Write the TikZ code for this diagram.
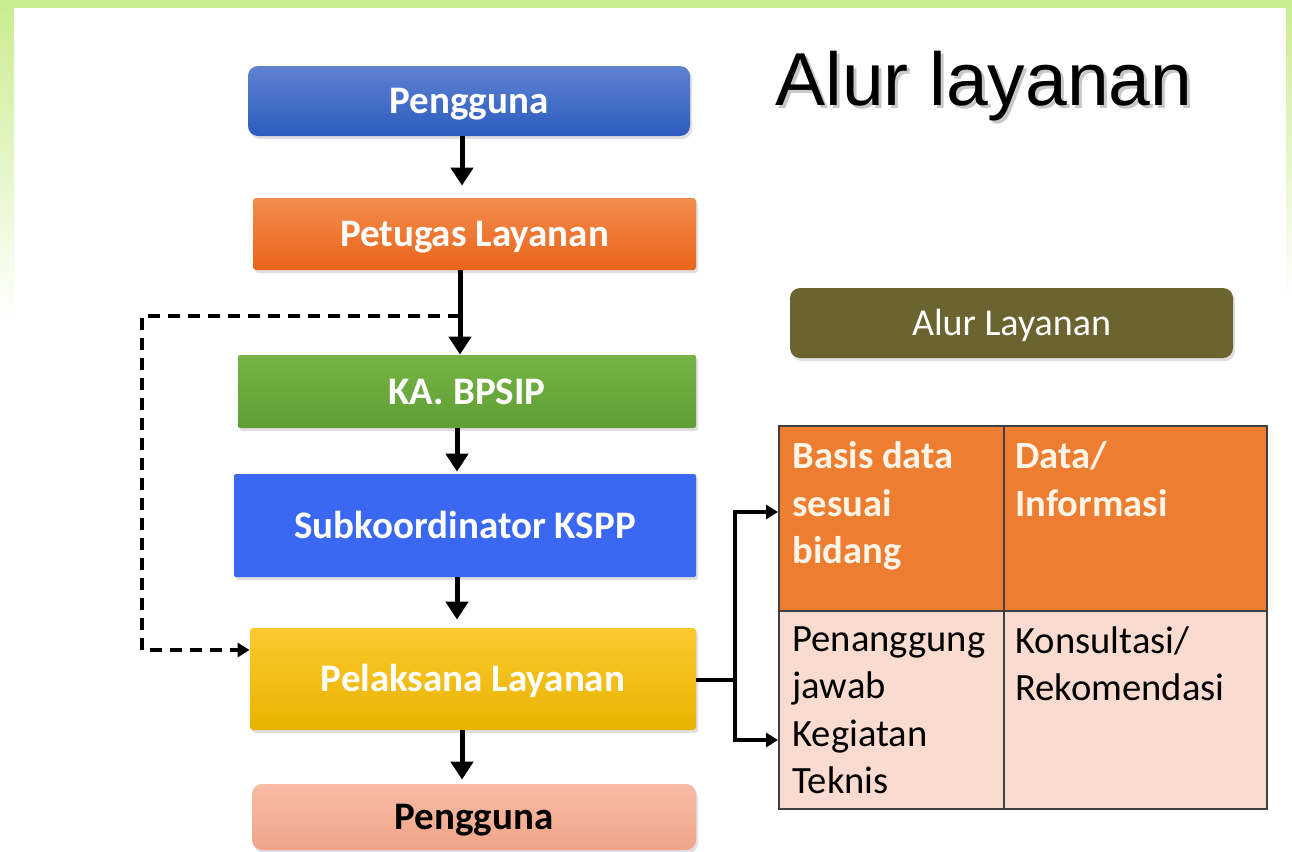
\documentclass[tikz,border=0pt]{standalone}
\usepackage{fontspec}
\setmainfont{Carlito}
\newfontfamily\arialf{Liberation Sans}
\usetikzlibrary{arrows.meta,shadows}
\definecolor{frameg}{HTML}{C9EC8E}
\definecolor{tblorange}{HTML}{ED7D31}
\definecolor{tblpink}{HTML}{F9DBD0}
\definecolor{olive}{HTML}{6B6431}
\definecolor{tbltext}{HTML}{FFF4E6}
\definecolor{blueT}{RGB}{95,130,210}
\definecolor{blueB}{RGB}{44,92,190}
\definecolor{orT}{RGB}{242,140,78}
\definecolor{orB}{RGB}{234,100,24}
\definecolor{grT}{RGB}{118,180,70}
\definecolor{grB}{RGB}{95,158,52}
\definecolor{subblue}{RGB}{58,104,242}
\definecolor{yeT}{RGB}{253,200,46}
\definecolor{yeB}{RGB}{232,180,0}
\definecolor{saT}{RGB}{247,188,166}
\definecolor{saB}{RGB}{240,164,136}
\tikzset{
  box/.style={draw=none, font=\fontsize{19.5}{23}\selectfont\bfseries, text=white,
     text height=12.6pt, text depth=0pt,
     drop shadow={opacity=0.25, shadow xshift=1pt, shadow yshift=-1.5pt}},
  arr/.style={line width=2.5pt, -{Triangle[width=11pt,length=9pt]}},
  dasharr/.style={line width=2.4pt, dash pattern=on 6pt off 4pt, -{Triangle[width=7pt,length=6pt]}},
  thinarr/.style={line width=1.6pt, -{Triangle[width=7pt,length=6pt]}},
  cell/.style={draw=black!75, line width=0.8pt, minimum width=#1, anchor=north west, inner sep=0pt},
  celltext/.style={anchor=north west, align=left, font=\fontsize{19.3}{23.8}\selectfont, inner sep=0pt},
  titlefont/.style={anchor=base west, inner sep=0pt, font=\arialf\fontsize{37.5}{40}\selectfont}
}
\begin{document}
\begin{tikzpicture}[x=0.5pt,y=-0.5pt]
\useasboundingbox (0,0) rectangle (1292,852);
% frame
\fill[white] (0,0) rectangle (1292,852);
\shade[top color=frameg, bottom color=white] (0,0) rectangle (14,320);
\shade[top color=frameg, bottom color=white] (1286,0) rectangle (1292,300);
\fill[frameg] (0,0) rectangle (1292,8);

% title
\node[titlefont, text=black, opacity=0.22] at (778,108) {Alur layanan};
\node[titlefont] (title) at (775,105) {Alur layanan};

% boxes
\node[box, rounded corners=5pt, top color=blueT, bottom color=blueB, minimum width=221pt, minimum height=35pt] (p1) at (469,101) {Pengguna};
\node[box, rounded corners=1.5pt, top color=orT, bottom color=orB, minimum width=221.5pt, minimum height=36pt] (pet) at (474.5,234) {Petugas Layanan};
\node[box, rounded corners=1pt, top color=grT, bottom color=grB, minimum width=229pt, minimum height=36.5pt] (ka) at (467,391.5) {KA. BPSIP};
\node[box, rounded corners=1pt, fill=subblue, minimum width=231pt, minimum height=51.5pt] (sub) at (465,525.5) {Subkoordinator KSPP};
\node[box, rounded corners=1.5pt, top color=yeT, bottom color=yeB, minimum width=223pt, minimum height=51pt] (pel) at (473,679) {Pelaksana Layanan};
\node[box, rounded corners=5pt, text=black, top color=saT, bottom color=saB, minimum width=222pt, minimum height=33pt] (p2) at (474,817) {Pengguna};

\node[box, rounded corners=5pt, fill=olive, font=\fontsize{19}{23}\selectfont, minimum width=221.5pt, minimum height=35pt] (alur) at (1011.5,323) {Alur Layanan};

% vertical arrows
\coordinate (c1) at (462,0);
\coordinate (c2) at (460,0);
\coordinate (c3) at (457,0);
\draw[arr] (p1.south -| c1) -- ([yshift=6pt]pet.north -| c1);
\draw[arr] (pet.south -| c2) -- (ka.north -| c2);
\draw[arr] (ka.south -| c3) -- ([yshift=1pt]sub.north -| c3);
\draw[arr] (sub.south -| c3) -- ([yshift=4pt]pel.north -| c3);
\draw[arr] (pel.south -| c1) -- ([yshift=2pt]p2.north -| c1);

% dashed loop
\coordinate (d1) at (460,316);
\coordinate (d2) at (142,316);
\coordinate (d3) at (142,650);
\draw[dasharr] (d1) -- (d2) -- (d3) -- (d3 -| pel.west);

% table
\node[cell=112.5pt, minimum height=92.5pt, fill=tblorange] (t11) at (778,425) {};
\node[cell=131.5pt, minimum height=92.5pt, fill=tblorange] (t12) at (1003,425) {};
\node[cell=112.5pt, minimum height=99pt, fill=tblpink] (t21) at (778,610) {};
\node[cell=131.5pt, minimum height=99pt, fill=tblpink] (t22) at (1003,610) {};
\node[celltext, text=tbltext, font=\fontsize{19.3}{23.8}\selectfont\bfseries] at ([xshift=7pt,yshift=-8pt]t11.north west) {Basis data\\sesuai\\bidang};
\node[celltext, text=tbltext, font=\fontsize{19.3}{23.8}\selectfont\bfseries] at ([xshift=6pt,yshift=-8pt]t12.north west) {Data/\\Informasi};
\node[celltext] at ([xshift=7pt,yshift=-8pt]t21.north west) {Penanggung\\jawab\\Kegiatan\\Teknis};
\node[celltext] at ([xshift=6pt,yshift=-8pt]t22.north west) {Konsultasi/\\Rekomendasi};

% branch arrows
\coordinate (b0) at (735,680);
\coordinate (bt) at (735,512);
\coordinate (bb) at (735,740);
\draw[line width=1.6pt] (pel.east |- b0) -- (b0);
\draw[thinarr] (b0) -- (bt) -- (bt -| t11.west);
\draw[thinarr] (b0) -- (bb) -- (bb -| t21.west);
\end{tikzpicture}
\end{document}
